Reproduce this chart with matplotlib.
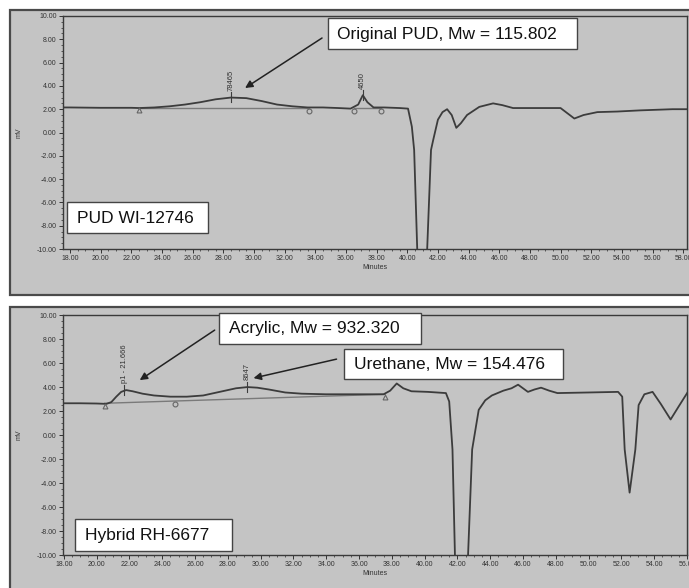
import numpy as np
import matplotlib
matplotlib.use('Agg')
from matplotlib import pyplot as plt
from matplotlib.patches import Rectangle
from matplotlib.ticker import MultipleLocator, FormatStrFormatter

plt.rcParams['font.family'] = ['Liberation Sans', 'DejaVu Sans']

# --- PUD WI-12746 trace (minutes, mV)
pud_time = [17.5, 18.0, 20.0, 22.0, 22.5, 23.5, 24.5, 25.5, 26.5, 27.5, 28.5, 29.5, 30.5,
            31.5, 32.5, 33.5, 34.5, 35.5, 36.3, 36.8, 37.1, 37.4, 37.8, 38.5, 39.5, 40.05,
            40.3, 40.45, 40.65, 40.75, 41.2, 41.3, 41.55, 41.7, 42.0, 42.3, 42.6, 42.9, 43.2,
            43.5, 43.9, 44.7, 45.6, 46.2, 46.9, 48.7, 50.0, 50.6, 50.9, 51.5, 52.4, 53.7,
            55.2, 57.3, 58.3]
pud_mv = [2.15, 2.15, 2.12, 2.12, 2.1, 2.15, 2.25, 2.4, 2.6, 2.85, 3.0, 2.95, 2.7,
          2.4, 2.25, 2.15, 2.15, 2.1, 2.05, 2.4, 3.2, 2.6, 2.15, 2.15, 2.1, 2.05,
          0.5, -1.5, -10.0, -12.0, -12.0, -10.0, -1.5, -0.6, 1.1, 1.75, 2.0, 1.5, 0.4,
          0.8, 1.5, 2.2, 2.5, 2.35, 2.1, 2.1, 2.1, 1.5, 1.2, 1.5, 1.75, 1.8,
          1.9, 2.0, 2.0]
pud_base_time = [[22.5, 33.6], [36.5, 38.3]]
pud_base_mv = [[2.1, 2.1], [2.1, 2.1]]
pud_tri = ([22.5], [1.95])
pud_circ = ([33.6, 36.5, 38.3], [1.85, 1.85, 1.85])
pud_peaks = [(28.5, 3.0, '78465'), (37.1, 3.2, '4650')]

# --- Hybrid RH-6677 trace
hyb_time = [18.0, 19.0, 20.0, 20.6, 20.9, 21.2, 21.5, 21.8, 22.2, 22.8, 23.5, 24.5, 25.5,
            26.5, 27.5, 28.5, 29.2, 29.8, 30.5, 31.5, 32.5, 34.0, 36.0, 37.5, 37.9, 38.3,
            38.7, 39.2, 40.2, 41.3, 41.5, 41.7, 41.85, 42.0, 42.5, 42.65, 42.9, 43.3, 43.7,
            44.1, 44.8, 45.3, 45.7, 46.0, 46.3, 46.7, 47.1, 47.6, 48.1, 50.0, 51.8, 52.05,
            52.2, 52.5, 52.85, 53.05, 53.4, 53.9, 54.4, 55.0, 55.5, 56.1]
hyb_mv = [2.65, 2.65, 2.63, 2.6, 2.75, 3.2, 3.6, 3.75, 3.65, 3.45, 3.3, 3.2, 3.2,
          3.3, 3.6, 3.9, 4.0, 3.95, 3.8, 3.55, 3.45, 3.4, 3.4, 3.4, 3.7, 4.3,
          3.9, 3.65, 3.6, 3.5, 2.8, -1.2, -10.0, -12.0, -12.0, -10.0, -1.2, 2.1, 2.9,
          3.3, 3.7, 3.9, 4.2, 3.9, 3.6, 3.8, 3.95, 3.7, 3.5, 3.55, 3.6, 3.2,
          -1.2, -4.8, -1.2, 2.5, 3.4, 3.6, 2.6, 1.3, 2.4, 3.7]
hyb_base_time = [[20.5, 37.6]]
hyb_base_mv = [[2.65, 3.4]]
hyb_tri = ([20.5, 37.6], [2.4, 3.15])
hyb_circ = ([24.8], [2.6])
hyb_peaks = [(21.7, 3.75, 'p1 - 21.666'), (29.15, 4.0, '8647')]

GRAY = '#c4c4c4'
TRACE = '#3c3c3c'
BASE = '#7a7a7a'

fig = plt.figure(figsize=(6.89, 5.88), dpi=100)
fig.patch.set_facecolor('white')

# outer instrument panels (behind the axes)
for y0, h in [(0.4983, 0.4847), (-0.01, 0.4879)]:
    fig.patches.append(Rectangle((0.0145, y0), 1.0, h, transform=fig.transFigure,
                                 facecolor=GRAY, edgecolor='#4a4a4a', lw=1.6, zorder=-5))


def setup_axes(ax, xlim):
    ax.set_facecolor(GRAY)
    ax.set_xlim(*xlim)
    ax.set_ylim(-10, 10)
    ax.xaxis.set_major_locator(MultipleLocator(2))
    ax.xaxis.set_minor_locator(MultipleLocator(0.5))
    ax.yaxis.set_major_locator(MultipleLocator(2))
    ax.yaxis.set_minor_locator(MultipleLocator(0.5))
    ax.xaxis.set_major_formatter(FormatStrFormatter('%.2f'))
    ax.yaxis.set_major_formatter(FormatStrFormatter('%.2f'))
    ax.tick_params(which='major', labelsize=5, length=3, width=0.7, colors='#333333', pad=1.5)
    ax.tick_params(which='minor', length=1.5, width=0.6, colors='#444444')
    for s in ax.spines.values():
        s.set_color('#3a3a3a')
        s.set_linewidth(1.0)
    ax.set_ylabel('mV', fontsize=5, color='#333333', labelpad=10)
    ax.set_xlabel('Minutes', fontsize=5, color='#333333', labelpad=1)


def draw_trace(ax, t, mv, base_t, base_mv, tri, circ, peaks):
    for bt, bm in zip(base_t, base_mv):
        ax.plot(bt, bm, color=BASE, lw=1.0, zorder=2)
    ax.plot(t, mv, color=TRACE, lw=1.3, zorder=3)
    ax.plot(*tri, ls='none', marker='^', ms=3.5, mfc='none', mec='#666666', mew=0.8, zorder=4)
    ax.plot(*circ, ls='none', marker='o', ms=3.5, mfc='none', mec='#666666', mew=0.8, zorder=4)
    for px, py, lab in peaks:
        ax.plot([px, px], [py - 0.4, py + 0.45], color=TRACE, lw=0.8, zorder=4)
        ax.text(px, py + 0.55, lab, rotation=90, ha='center', va='bottom',
                fontsize=5.5, color='#333333', zorder=4)


def label_box(ax, x0, x1, y0, y1, tx, ty, text):
    ax.add_patch(Rectangle((x0, y0), x1 - x0, y1 - y0, facecolor='white',
                           edgecolor='#444444', lw=1.0, zorder=5, clip_on=False))
    ax.text(tx, ty, text, ha='left', va='center', fontsize=12.5, color='#111111',
            zorder=6, clip_on=False)


def arrow(ax, start, tip):
    ax.annotate('', xy=tip, xytext=start, zorder=6,
                arrowprops=dict(arrowstyle='-|>', color='#222222', lw=1.1,
                                mutation_scale=11, shrinkA=0, shrinkB=0))


# top panel
ax1 = fig.add_axes([0.0914, 0.5765, 0.9057, 0.3963])
setup_axes(ax1, (17.54, 58.25))
draw_trace(ax1, pud_time, pud_mv, pud_base_time, pud_base_mv, pud_tri, pud_circ, pud_peaks)
label_box(ax1, 34.83, 51.07, 7.17, 9.83, 35.42, 8.45, 'Original PUD, Mw = 115.802')
arrow(ax1, (34.44, 8.11), (29.42, 3.82))
label_box(ax1, 17.80, 27.0, -8.63, -5.97, 18.46, -7.35, 'PUD WI-12746')

# bottom panel
ax2 = fig.add_axes([0.0914, 0.0561, 0.9057, 0.408])
setup_axes(ax2, (17.95, 56.0))
draw_trace(ax2, hyb_time, hyb_mv, hyb_base_time, hyb_base_mv, hyb_tri, hyb_circ, hyb_peaks)
label_box(ax2, 27.44, 39.80, 7.58, 10.17, 28.05, 8.85, 'Acrylic, Mw = 932.320')
arrow(ax2, (27.2, 8.75), (22.63, 4.58))
label_box(ax2, 35.11, 48.45, 4.67, 7.17, 35.72, 5.9, 'Urethane, Mw = 154.476')
arrow(ax2, (34.63, 6.33), (29.57, 4.75))
label_box(ax2, 18.67, 28.23, -9.67, -7.0, 19.28, -8.37, 'Hybrid RH-6677')

fig.savefig('out.png', dpi=100, facecolor='white')
